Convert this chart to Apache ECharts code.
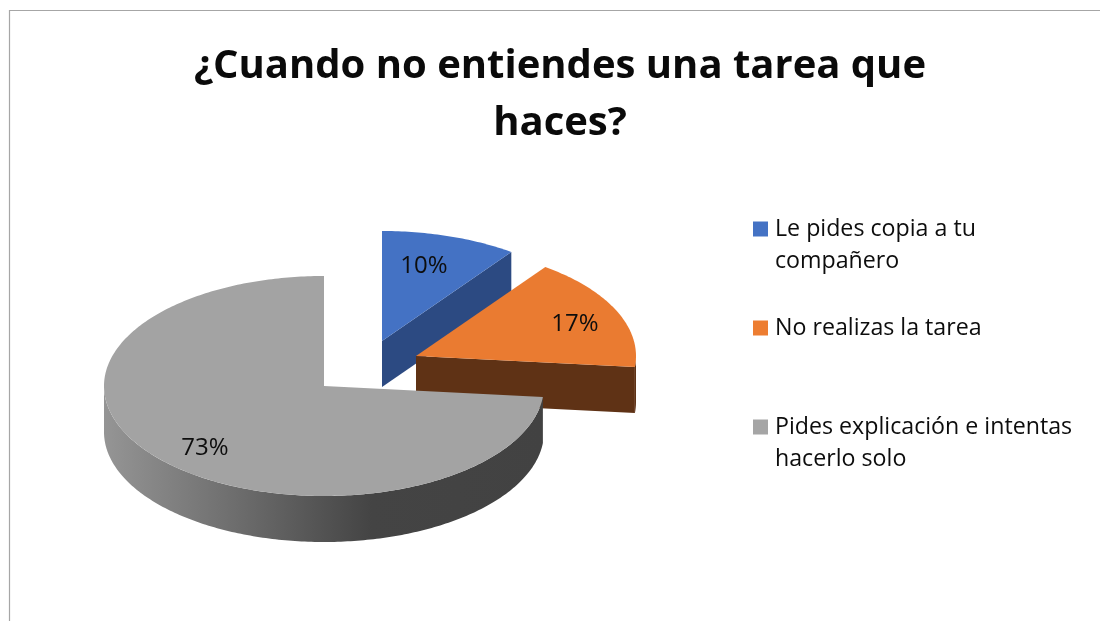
<!DOCTYPE html>
<html>
<head>
<meta charset="utf-8">
<style>html,body{margin:0;padding:0;background:#fff}#c{width:1100px;height:621px}</style>
<script src="https://cdn.jsdelivr.net/npm/echarts@6/dist/echarts.min.js"></script>
</head>
<body>
<div id="c"></div>
<script>
const titleText = '¿Cuando no entiendes una tarea que\nhaces?';
const categories = ['Le pides copia a tu\ncompañero', 'No realizas la tarea', 'Pides explicación e intentas\nhacerlo solo'];
const shares = [10, 16.6, 73.4];

// Appearance only: pie geometry and per-slice styling
const RX = 220, RY = 110, DEPTH = 46;
const sliceStyles = [
  { cx: 382, cy: 341, top: '#4472c4', side: '#2c4a82', legend: '#4472c4', label: [424, 266] },
  { cx: 416, cy: 356, top: '#ea7b31', side: '#5f3215', legend: '#ed7d31', label: [575, 324] },
  { cx: 324, cy: 386, top: '#a3a3a3', legend: '#a5a5a5', side: new echarts.graphic.LinearGradient(0, 0, 1, 0, [
      { offset: 0, color: '#959595' },
      { offset: 0.61, color: '#444444' },
      { offset: 1, color: '#424242' }
    ]), label: [205, 448] }
];
const FONT = '"Open Sans", "Noto Sans", sans-serif';

const total = shares.reduce((a, b) => a + b, 0);
function startOf(i) { return shares.slice(0, i).reduce((a, b) => a + b, 0) / total * 2 * Math.PI; }
function pt(s, a, dy) { return [s.cx + RX * Math.sin(a), s.cy - RY * Math.cos(a) + (dy || 0)]; }
function arc(s, a0, a1, dy) {
  const n = Math.max(2, Math.ceil((a1 - a0) / 0.015));
  const out = [];
  for (let k = 0; k <= n; k++) out.push(pt(s, a0 + (a1 - a0) * k / n, dy));
  return out;
}
function makeRender(i) {
  return function (params, api) {
    const s = sliceStyles[i];
    const value = api.value(0);
    const a0 = startOf(i), a1 = a0 + value / total * 2 * Math.PI;
    const children = [];
    const poly = (points, fill) => children.push({
      type: 'polygon', shape: { points }, style: { fill, stroke: null }
    });
    const apex = [s.cx, s.cy], apexLow = [s.cx, s.cy + DEPTH];
    // radial wall on the closing edge, which faces the viewer for slices ending before the back
    if (a1 < Math.PI) {
      poly([apex, pt(s, a1), pt(s, a1, DEPTH), apexLow], s.side);
    }
    // outer wall on the front half of the ellipse
    const f0 = Math.max(a0, Math.PI / 2), f1 = Math.min(a1, 3 * Math.PI / 2);
    if (f1 > f0) {
      poly(arc(s, f0, f1, 0).concat(arc(s, f0, f1, DEPTH).reverse()), s.side);
    }
    // top face
    poly([apex].concat(arc(s, a0, a1, 0)), s.top);
    children.push({
      type: 'text',
      style: {
        text: Math.round(value) + '%', x: s.label[0], y: s.label[1], align: 'center', verticalAlign: 'middle',
        fill: '#0d0d0d', font: '24px ' + FONT
      }
    });
    return { type: 'group', children };
  };
}

const chart = echarts.init(document.getElementById('c'), null, { renderer: 'canvas' });
chart.setOption({
  animation: false,
  backgroundColor: '#ffffff',
  title: {
    text: titleText, left: 560, top: 38, textAlign: 'center', padding: 0,
    textStyle: { fontFamily: FONT, fontWeight: 'bold', fontSize: 40, lineHeight: 57, color: '#0a0a0a' }
  },
  legend: {
    orient: 'vertical', left: 753, top: 181, padding: 0, itemGap: 35,
    itemWidth: 15, itemHeight: 15, icon: 'rect', selectedMode: false,
    data: categories,
    formatter: n => (n.indexOf('\n') >= 0 ? '\n' + n : n),
    textStyle: { fontFamily: FONT, fontSize: 23.2, lineHeight: 32, color: '#0d0d0d', padding: [0, 0, 0, 2] }
  },
  graphic: [
    { type: 'line', silent: true, shape: { x1: 9.5, y1: 10.5, x2: 1100, y2: 10.5 }, style: { stroke: '#a6a6a6', lineWidth: 1.2 } },
    { type: 'line', silent: true, shape: { x1: 9.5, y1: 10, x2: 9.5, y2: 621 }, style: { stroke: '#a6a6a6', lineWidth: 1.2 } }
  ],
  series: categories.map((name, i) => ({
    type: 'custom', name, coordinateSystem: 'none', silent: true,
    itemStyle: { color: sliceStyles[i].legend },
    data: [[shares[i]]],
    renderItem: makeRender(i)
  }))
});
</script>
</body>
</html>
